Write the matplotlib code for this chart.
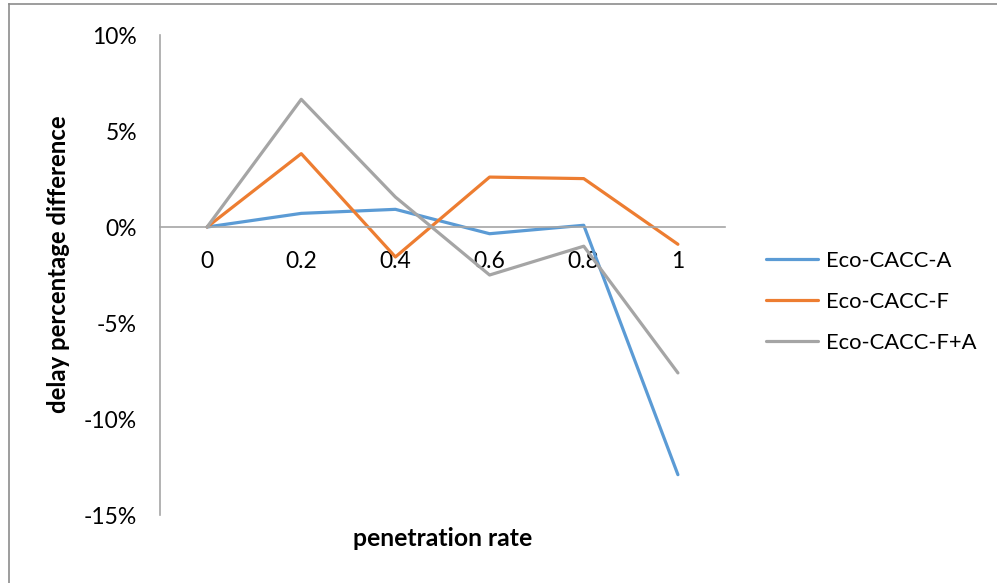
import matplotlib
matplotlib.use('Agg')
import matplotlib.pyplot as plt
from matplotlib.lines import Line2D
from matplotlib.ticker import FuncFormatter

# --- dados ---
taxas = ['0', '0.2', '0.4', '0.6', '0.8', '1']
eco_a = [0.0, 0.71, 0.92, -0.35, 0.09, -12.9]
eco_f = [0.0, 3.82, -1.56, 2.60, 2.52, -0.90]
eco_fa = [0.0, 6.65, 1.56, -2.50, -1.00, -7.60]
nomes = ['Eco-CACC-A', 'Eco-CACC-F', 'Eco-CACC-F+A']
cores = ['#5B9BD5', '#ED7D31', '#A5A5A5']

plt.rcParams['font.family'] = ['Lato', 'DejaVu Sans']

W, H = 997, 583
fig = plt.figure(figsize=(W / 100, H / 100), dpi=100)
ax = fig.add_axes([160 / W, 1 - 515 / H, (725 - 160) / W, (515 - 35) / H])

x = list(range(len(taxas)))
for serie, nome, cor in zip([eco_a, eco_f, eco_fa], nomes, cores):
    ax.plot(x, serie, color=cor, lw=2.3, label=nome, solid_capstyle='round')

ax.set_xlim(-0.5, len(taxas) - 0.5)
ax.set_ylim(-15, 10)
ax.set_yticks([-15, -10, -5, 0, 5, 10])
ax.yaxis.set_major_formatter(FuncFormatter(lambda v, p: f'{v:.0f}%'))
ax.set_xticks(x)
ax.set_xticklabels(taxas)

# eixo x cruza em 0 (estilo Excel)
for s in ['top', 'right']:
    ax.spines[s].set_visible(False)
ax.spines['bottom'].set_position(('data', 0))
ax.spines['bottom'].set_color('#A6A6A6')
ax.spines['left'].set_color('#A6A6A6')
ax.spines['bottom'].set_linewidth(1.2)
ax.spines['left'].set_linewidth(1.2)
ax.tick_params(axis='both', length=0, labelsize=16.5, colors='black')
ax.tick_params(axis='y', pad=16.5)
ax.tick_params(axis='x', pad=17)

fig.text(59 / W, 1 - 264 / H, 'delay percentage difference', rotation=90,
         ha='center', va='center', fontsize=17.2, fontweight='bold')
fig.text(443 / W, 1 - 538 / H, 'penetration rate', ha='center', va='center',
         fontsize=17.8, fontweight='bold')

ax.legend(loc='center left', bbox_to_anchor=(757 / W, 1 - 302 / H),
          bbox_transform=fig.transFigure, frameon=False, fontsize=15.8,
          borderaxespad=0, borderpad=0.4,
          handlelength=2.4, labelspacing=0.95, handletextpad=0.35)

# moldura (só aparecem as bordas de cima e da esquerda no recorte)
fig.add_artist(Line2D([8.5 / W, 1], [1 - 3.5 / H, 1 - 3.5 / H],
                      transform=fig.transFigure, color='#8C8C8C', lw=1.2))
fig.add_artist(Line2D([8.5 / W, 8.5 / W], [0, 1 - 3.5 / H],
                      transform=fig.transFigure, color='#8C8C8C', lw=1.2))

fig.savefig('out.png', dpi=100)
